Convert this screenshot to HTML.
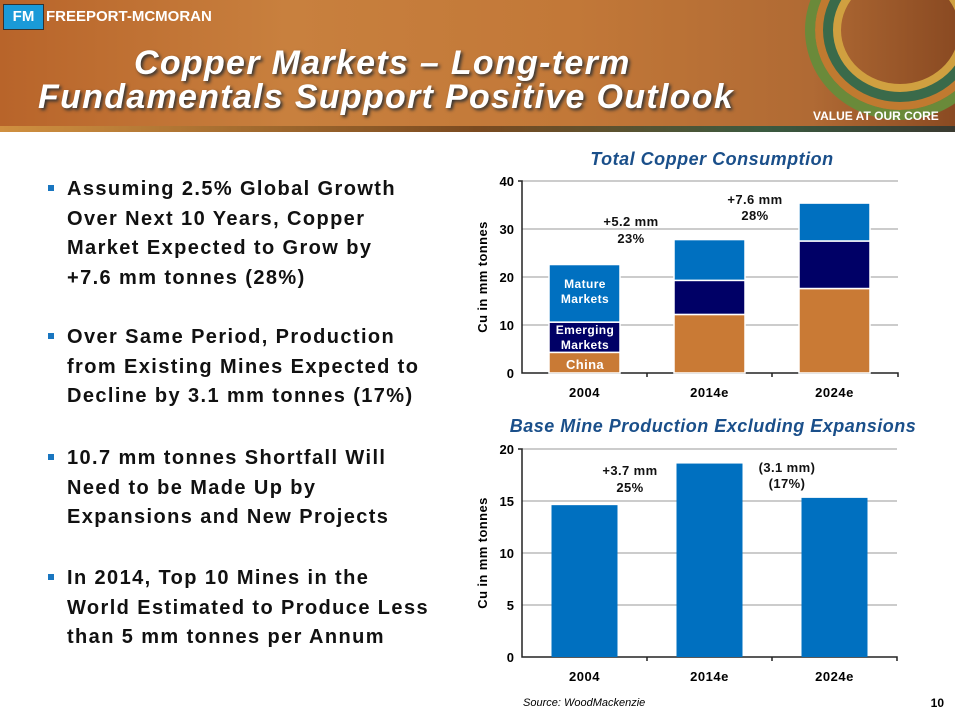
<!DOCTYPE html>
<html><head><meta charset="utf-8"><style>
body{margin:0;width:955px;height:714px;overflow:hidden;background:#fff;font-family:"Liberation Sans",sans-serif;position:relative}
.hdr{position:absolute;left:0;top:0;width:955px;height:132px;background:linear-gradient(90deg,#b8642a 0%,#c8803e 30%,#c27838 60%,#b06a34 85%,#8a4a22 100%)}
.hdr:after{content:"";position:absolute;left:0;right:0;bottom:0;height:6px;background:linear-gradient(90deg,#d09040,#7a4a20 50%,#3a5a40 80%,#3a3a30)}
.title{position:absolute;color:#fff;font-style:italic;font-weight:bold;font-size:34px;letter-spacing:1.3px;text-shadow:2px 2px 3px #333;line-height:35px}
.bul{position:absolute;left:48px;font-weight:bold;font-size:20px;letter-spacing:1.4px;line-height:29.5px;color:#111}
.bul span{position:absolute;left:0;top:10px;width:6px;height:6px;background:#1976c0}
.bul div{margin-left:19px}
</style></head><body>
<div class="hdr">
<div style="position:absolute;left:3px;top:4px;width:39px;height:24px;background:#1a9ad8;border:1px solid #333;color:#fff;font-weight:bold;font-size:15px;text-align:center;line-height:24px">FM</div>
<div style="position:absolute;left:46px;top:8px;color:#fff;font-weight:bold;font-size:15px">FREEPORT-MCMORAN</div>
<div style="position:absolute;left:805px;top:-60px;width:170px;height:160px;border-radius:50%;border:10px solid #6a8a3a;box-shadow:inset 0 0 0 8px #c07a30,inset 0 0 0 18px #3a6a4a,inset 0 0 0 26px #d0a040"></div>
<div class="title" style="left:134px;top:46px">Copper Markets – Long-term</div>
<div class="title" style="left:38px;top:80px">Fundamentals Support Positive Outlook</div>
<div style="position:absolute;left:813px;top:109px;color:#fff;font-weight:bold;font-size:12px">VALUE AT OUR CORE</div>
</div>
<div class="bul" style="top:175px"><span></span><div>Assuming 2.5% Global Growth<br>Over Next 10 Years, Copper<br>Market Expected to Grow by<br>+7.6 mm tonnes (28%)</div></div>
<div class="bul" style="top:323px"><span></span><div>Over Same Period, Production<br>from Existing Mines Expected to<br>Decline by 3.1 mm tonnes (17%)</div></div>
<div class="bul" style="top:444px"><span></span><div>10.7 mm tonnes Shortfall Will<br>Need to be Made Up by<br>Expansions and New Projects</div></div>
<div class="bul" style="top:564px"><span></span><div>In 2014, Top 10 Mines in the<br>World Estimated to Produce Less<br>than 5 mm tonnes per Annum</div></div>
<svg id="c" width="955" height="714" style="position:absolute;left:0;top:0" font-family="Liberation Sans, sans-serif"></svg>
<script>
const cats=["2004","2014e","2024e"];
const china=[4.3,12.2,17.6];
const emerging=[6.3,7.1,9.9];
const mature=[12.0,8.5,7.9];
const yTicks1=[0,10,20,30,40];
const prod=[14.6,18.6,15.3];
const yTicks2=[0,5,10,15,20];
const svg=document.getElementById('c');
const NS='http://www.w3.org/2000/svg';
function mk(t,a,txt){const e=document.createElementNS(NS,t);for(const k in a)e.setAttribute(k,a[k]);if(txt!==undefined)e.textContent=txt;svg.appendChild(e);return e;}
function chart(o){
  const y=v=>o.y0-(v/o.max)*(o.y0-o.yTop);
  const x=i=>o.x0+(i+0.5)*125;
  o.ticks.forEach(t=>{
    if(t>0){const g=mk('line',{x1:o.x0,x2:o.x1,y1:y(t),y2:y(t),stroke:'#bbb','stroke-width':1.5});}
    const l=mk('text',{x:o.x0-8,y:y(t)+5,'text-anchor':'end','font-size':13,'font-weight':'bold'},t);
    
  });
  const ax=mk('path',{d:`M${o.x0-4} ${o.yTop}H${o.x0}V${o.y0}H${o.x1}V${o.y0+4}M${o.x0+125} ${o.y0}v4M${o.x0+250} ${o.y0}v4`,stroke:'#222',fill:'none','stroke-width':1.5});
  
  cats.forEach((c,i)=>{const t=mk('text',{x:x(i),y:o.y0+24,'text-anchor':'middle','font-size':13,'font-weight':'bold','letter-spacing':0.5},c);
    });
  const yt=mk('text',{transform:`translate(${o.x0-35},${(o.y0+o.yTop)/2}) rotate(-90)`,'text-anchor':'middle','font-size':13,'font-weight':'bold','letter-spacing':0.4},'Cu in mm tonnes');
  
  const tt=mk('text',{x:o.tx,y:o.ty,'text-anchor':'middle','font-size':18,'font-weight':'bold','font-style':'italic',fill:'#1a4f8a','letter-spacing':0.5},o.title);
  
  return {x,y};
}
const a=chart({x0:522,x1:898,y0:373,yTop:181,max:40,ticks:yTicks1,title:'Total Copper Consumption',tx:712,ty:165});
const series=[[china,'#c97a35','china'],[emerging,'#000066','emerging'],[mature,'#0070c0','mature']];
cats.forEach((c,i)=>{let base=0;series.forEach(s=>{const v=s[0][i];
  const r=mk('rect',{x:a.x(i)-35.5,width:71,y:a.y(base+v),height:a.y(base)-a.y(base+v),fill:s[1],stroke:'#fff','stroke-width':1.5});
  base+=v;});});
function lbl(x,y,txt,col,n,size){const t=mk('text',{x:x,y:y,'text-anchor':'middle','font-size':size||13,'font-weight':'bold',fill:col,'letter-spacing':0.4},txt);}
lbl(585,288,'Mature','#fff','segment-label-mature',12);lbl(585,303,'Markets','#fff','segment-label-mature',12);
lbl(585,334,'Emerging','#fff','segment-label-emerging',12);lbl(585,349,'Markets','#fff','segment-label-emerging',12);
lbl(585,369,'China','#fff','segment-label-china',13);
lbl(631,226,'+5.2 mm','#111','annotation-2014');lbl(631,243,'23%','#111','annotation-2014');
lbl(755,204,'+7.6 mm','#111','annotation-2024');lbl(755,220,'28%','#111','annotation-2024');
const b=chart({x0:522,x1:897,y0:657,yTop:449,max:20,ticks:yTicks2,title:'Base Mine Production Excluding Expansions',tx:713,ty:432});
cats.forEach((c,i)=>{const r=mk('rect',{x:b.x(i)-33,width:66,y:b.y(prod[i]),height:b.y(0)-b.y(prod[i]),fill:'#0070c0'});
  });
lbl(630,475,'+3.7 mm','#111','annotation-prod-2014');lbl(630,492,'25%','#111','annotation-prod-2014');
lbl(787,472,'(3.1 mm)','#111','annotation-prod-2024');lbl(787,488,'(17%)','#111','annotation-prod-2024');
const s=mk('text',{x:523,y:706,'font-size':11,'font-style':'italic'},'Source:  WoodMackenzie');
const p=mk('text',{x:944,y:707,'text-anchor':'end','font-size':12,'font-weight':'bold'},'10');
</script>
</body></html>
